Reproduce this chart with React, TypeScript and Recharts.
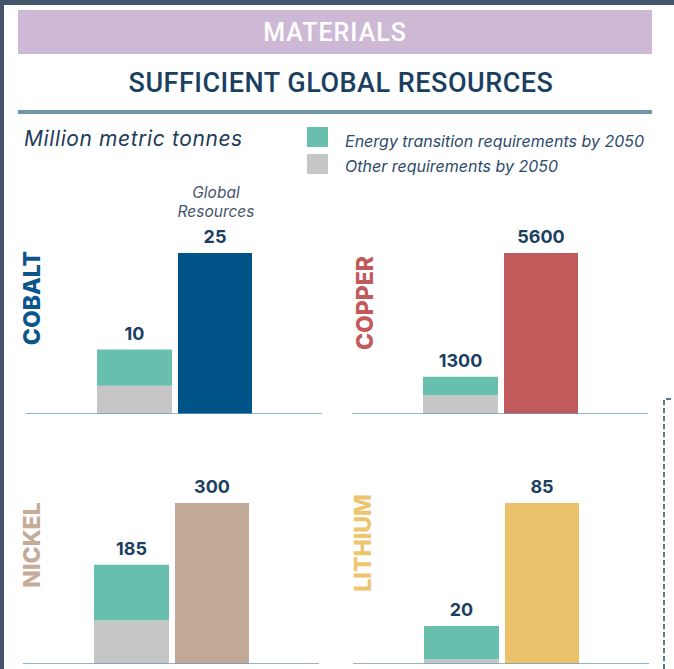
import React from 'react';
import { BarChart, Bar, XAxis, YAxis, ReferenceLine, LabelList } from 'recharts';

const minerals = ['COBALT', 'COPPER', 'NICKEL', 'LITHIUM'];
const energyReq = [5.6, 650, 104, 17.6];
const otherReq = [4.4, 650, 81, 2.4];
const totalReq = [10, 1300, 185, 20];
const globalResources = [25, 5600, 300, 85];
const legendLabels = ['Energy transition requirements by 2050', 'Other requirements by 2050'];

const GREEN = '#69bfae';
const GREY = '#c6c6c6';
const NAVY = '#1b3f61';
const mineralColors = ['#015488', '#c05a5b', '#c2a896', '#ebc16b'];
const mineralTextColors = ['#0a558a', '#c25a5c', '#c6ab98', '#efc46f'];

// chart placement (plot area) per mineral
const placements = [
  { left: 26, right: 322, bottom: 414, top: 253, labelX: 31.5, labelY: 298 },
  { left: 352, right: 648, bottom: 414, top: 253, labelX: 365, labelY: 303 },
  { left: 23, right: 319, bottom: 664, top: 503, labelX: 32, labelY: 545 },
  { left: 353, right: 649, bottom: 664, top: 503, labelX: 363, labelY: 543 },
];

const TOP_MARGIN = 50;

const ValueLabel = (props: any) => {
  const { x, y, width, value } = props;
  return (
    <text
      x={Number(x) + Number(width) / 2}
      y={Number(y) - 10}
      textAnchor="middle"
      fill={NAVY}
      fontFamily="Inter, 'Open Sans', sans-serif"
      fontWeight={700}
      fontSize={18}
    >
      {value}
    </text>
  );
};

function MineralChart({ i }: { i: number }) {
  const p = placements[i];
  const data = [
    {
      name: minerals[i],
      other: otherReq[i],
      energy: energyReq[i],
      total: totalReq[i],
      global: globalResources[i],
    },
  ];
  const w = p.right - p.left;
  const h = p.bottom - p.top + TOP_MARGIN;
  return (
    <div style={{ position: 'absolute', left: p.left, top: p.top - TOP_MARGIN, width: w, height: h }}>
      <BarChart
        width={w}
        height={h}
        data={data}
        margin={{ top: TOP_MARGIN, right: 0, left: 0, bottom: 0 }}
        barGap={6}
      >
        <XAxis dataKey="name" hide />
        <YAxis hide domain={[0, globalResources[i]]} />
        <Bar dataKey="other" stackId="req" barSize={75} fill={GREY} isAnimationActive={false} />
        <Bar dataKey="energy" stackId="req" barSize={75} fill={GREEN} isAnimationActive={false}>
          <LabelList dataKey="total" content={ValueLabel} />
        </Bar>
        <Bar dataKey="global" barSize={74} fill={mineralColors[i]} isAnimationActive={false}>
          <LabelList dataKey="global" content={ValueLabel} />
        </Bar>
        <ReferenceLine y={0} stroke="#6a9cc2" strokeWidth={1.6} ifOverflow="visible" />
      </BarChart>
    </div>
  );
}

export default function App() {
  return (
    <div
      style={{
        position: 'absolute',
        left: 0,
        top: 0,
        width: 674,
        height: 669,
        overflow: 'hidden',
        background: '#ffffff',
      }}
    >
      <svg width={674} height={669} style={{ position: 'absolute', left: 0, top: 0 }}>
        {/* frame */}
        <rect x={0} y={0} width={674} height={5} fill="#44546b" />
        <rect x={0} y={0} width={4} height={669} fill="#44546b" />
        {/* banner */}
        <rect x={18} y={10} width={634} height={44} fill="#cdb9d5" />
        <text
          x={335}
          y={41}
          textAnchor="middle"
          fill="#ffffff"
          fontFamily="Roboto, sans-serif"
          fontWeight={500}
          fontSize={25}
          letterSpacing={1}
        >
          MATERIALS
        </text>
        <text
          x={341}
          y={92}
          textAnchor="middle"
          fill={NAVY}
          fontFamily="Roboto, sans-serif"
          fontWeight={500}
          fontSize={27}
          letterSpacing={0.5}
        >
          SUFFICIENT GLOBAL RESOURCES
        </text>
        <rect x={18} y={110} width={634} height={4} fill="#6e97a8" />
        {/* unit */}
        <text
          x={24}
          y={146}
          fill="#1f3c5a"
          fontFamily="Inter, sans-serif"
          fontStyle="italic"
          fontSize={21}
          letterSpacing={0.6}
        >
          Million metric tonnes
        </text>
        {/* legend */}
        <rect x={307} y={127} width={21} height={20} fill={GREEN} />
        <rect x={307} y={154} width={21} height={20} fill={GREY} />
        <text x={345} y={147} fill="#2d4b6b" fontFamily="Inter, sans-serif" fontStyle="italic" fontSize={16}>
          {legendLabels[0]}
        </text>
        <text x={345} y={172} fill="#2d4b6b" fontFamily="Inter, sans-serif" fontStyle="italic" fontSize={16}>
          {legendLabels[1]}
        </text>
        {/* global resources note */}
        <text x={216} y={198} textAnchor="middle" fill="#44566b" fontFamily="Inter, sans-serif" fontStyle="italic" fontSize={15.5}>
          Global
        </text>
        <text x={216} y={217} textAnchor="middle" fill="#44566b" fontFamily="Inter, sans-serif" fontStyle="italic" fontSize={15.5}>
          Resources
        </text>
        {/* mineral names */}
        {minerals.map((m, i) => (
          <text
            key={m}
            transform={`translate(${placements[i].labelX},${placements[i].labelY}) rotate(-90)`}
            textAnchor="middle"
            dominantBaseline="central"
            fill={mineralTextColors[i]}
            fontFamily="Inter, sans-serif"
            fontWeight={800}
            fontSize={23}
          >
            {m}
          </text>
        ))}
        {/* dashed box edge at right */}
        <path d="M664 669 L664 399 L674 399" fill="none" stroke="#5b7690" strokeWidth={2} strokeDasharray="5 3" />
      </svg>
      {minerals.map((m, i) => (
        <MineralChart key={m} i={i} />
      ))}
    </div>
  );
}
